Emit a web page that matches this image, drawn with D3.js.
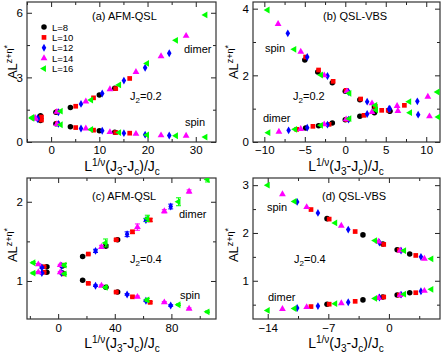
<!DOCTYPE html>
<html>
<head>
<meta charset="utf-8">
<script src="https://cdn.jsdelivr.net/npm/d3@7"></script>
<style>
  body { margin: 0; background: #fff; }
  svg { display: block; font-family: "Liberation Sans", Arial, sans-serif; }
</style>
</head>
<body>
<svg id="chart" width="443" height="352"></svg>
<script>
// system sizes and their colours / symbols
const sizes = [8, 10, 12, 14, 16];
const colors = ['#000000', '#ff0000', '#0000ff', '#ff00ff', '#00ff00'];

// (a) AFM-QSL, J2=0.2 : [x, y] per L
const aDimer = [
  [[-2.2, 1.22], [1.0, 1.38], [4.0, 1.6], [10.0, 2.18], [13.2, 2.5]],
  [[-2.0, 1.16], [1.3, 1.4], [5.1, 1.66], [8.8, 2.05], [13.4, 2.48], [16.3, 2.95]],
  [[-2.8, 1.1], [1.5, 1.38], [6.2, 1.77], [10.6, 2.25], [15.1, 2.85], [19.5, 3.45], [24.5, 4.12]],
  [[-3.3, 1.12], [1.2, 1.4], [7.2, 1.88], [12.2, 2.45], [17.6, 3.25], [22.8, 3.98], [28.0, 4.93]],
  [[-3.9, 1.14], [2.0, 1.43], [8.3, 1.95], [14.1, 2.65], [19.9, 3.65], [25.9, 4.72], [32.0, 5.9]]
];
const aSpin = [
  [[-2.2, 1.0], [1.0, 0.85], [4.0, 0.71], [10.0, 0.52], [13.2, 0.45]],
  [[-2.0, 1.02], [1.3, 0.86], [5.1, 0.67], [8.8, 0.55], [13.4, 0.44], [16.3, 0.41]],
  [[-2.8, 1.06], [1.5, 0.84], [6.2, 0.63], [10.6, 0.52], [15.1, 0.41], [19.5, 0.34], [24.5, 0.3]],
  [[-3.3, 1.08], [1.2, 0.83], [7.2, 0.63], [12.2, 0.46], [17.6, 0.38], [22.8, 0.31], [28.0, 0.29]],
  [[-3.9, 1.1], [2.0, 0.8], [8.3, 0.58], [14.1, 0.44], [19.9, 0.33], [25.9, 0.29], [32.0, 0.23]]
];

// (b) QSL-VBS, J2=0.2
const bDimer = [
  [[-4.9, 0.42], [-3.3, 0.49], [-1.6, 0.57], [0.0, 0.67], [1.8, 0.77], [3.6, 0.88], [5.5, 0.93]],
  [[-6.0, 0.38], [-4.0, 0.47], [-2.0, 0.53], [0.2, 0.67], [2.3, 0.8], [4.5, 0.95], [7.3, 1.1]],
  [[-7.0, 0.35], [-4.7, 0.43], [-2.2, 0.52], [0.4, 0.67], [2.7, 0.84], [5.5, 1.0], [8.9, 1.22]],
  [[-8.2, 0.31], [-5.5, 0.39], [-2.6, 0.53], [0.1, 0.68], [3.3, 0.9], [6.4, 1.08], [10.2, 1.36]],
  [[-9.5, 0.28], [-6.2, 0.38], [-3.0, 0.5], [0.5, 0.7], [3.8, 0.96], [7.9, 1.21], [11.4, 1.5]]
];
const bSpin = [
  [[-5.0, 2.46], [-3.4, 2.1], [-1.6, 1.78], [0.0, 1.52], [1.8, 1.27], [3.6, 1.05], [5.5, 0.92]],
  [[-4.9, 2.55], [-3.3, 2.16], [-1.5, 1.82], [0.1, 1.55], [1.9, 1.29], [3.7, 1.07], [5.3, 0.95]],
  [[-7.1, 3.26], [-4.7, 2.55], [-2.2, 1.98], [0.4, 1.5], [2.7, 1.21], [5.4, 0.99], [9.0, 0.82]],
  [[-8.3, 3.54], [-5.5, 2.71], [-2.6, 2.0], [0.2, 1.52], [3.3, 1.16], [6.5, 0.93], [10.4, 0.77]],
  [[-9.6, 3.96], [-6.3, 2.78], [-3.0, 2.01], [0.5, 1.46], [3.7, 1.1], [8.0, 0.88], [11.5, 0.75]]
];

// (c) AFM-QSL, J2=0.4 : [x, y, error]
const cDimer = [
  [[-8, 1.18, 0.01], [3, 1.19, 0.01], [17.3, 1.31, 0.01], [33.7, 1.44, 0.02], [42, 1.52, 0.01]],
  [[-10, 1.18, 0.01], [3.5, 1.2, 0.01], [21.3, 1.34, 0.01], [41, 1.52, 0.01], [52.5, 1.62, 0.02], [65, 1.77, 0.02]],
  [[-11.5, 1.17, 0.01], [2.5, 1.19, 0.01], [26.4, 1.38, 0.02], [48.7, 1.59, 0.03], [62, 1.77, 0.02], [79.5, 1.94, 0.03]],
  [[-14, 1.21, 0.01], [1.5, 1.2, 0.01], [30.6, 1.43, 0.02], [56, 1.68, 0.04], [75, 1.88, 0.02], [92.5, 2.13, 0.02]],
  [[-17.5, 1.23, 0.01], [4.5, 1.2, 0.02], [33.5, 1.48, 0.05], [63, 1.79, 0.04], [85, 2.0, 0.05], [105.5, 2.28, 0.03]]
];
const cSpin = [
  [[-8, 1.11, 0.01], [3, 1.1, 0.01], [17.3, 1.01, 0.01], [33.7, 0.92, 0.01], [42, 0.86, 0.01]],
  [[-10, 1.11, 0.01], [3.5, 1.09, 0.01], [21.3, 0.97, 0.01], [41, 0.86, 0.01], [52.5, 0.8, 0.01], [65, 0.73, 0.01]],
  [[-11.5, 1.1, 0.01], [2.5, 1.1, 0.01], [26.4, 0.94, 0.01], [48.7, 0.83, 0.01], [62, 0.75, 0.01], [79.5, 0.69, 0.01]],
  [[-14, 1.11, 0.01], [1.5, 1.11, 0.01], [30.6, 0.94, 0.01], [56, 0.8, 0.01], [75, 0.73, 0.01], [92.5, 0.65, 0.01]],
  [[-17.5, 1.1, 0.01], [4.5, 1.09, 0.01], [33.5, 0.92, 0.01], [63, 0.76, 0.02], [85, 0.7, 0.01], [105.5, 0.61, 0.01]]
];

// (d) QSL-VBS, J2=0.4
const dDimer = [
  [[-7.15, 0.51], [-3.0, 0.6], [-0.7, 0.66], [0.95, 0.7], [2.4, 0.75]],
  [[-9.0, 0.46], [-6.9, 0.51], [-3.9, 0.57], [-0.6, 0.66], [1.2, 0.7], [3.1, 0.75]],
  [[-10.6, 0.43], [-8.2, 0.47], [-4.7, 0.55], [-1.1, 0.65], [1.4, 0.71], [3.7, 0.78]],
  [[-12.3, 0.41], [-9.5, 0.45], [-5.5, 0.53], [-1.2, 0.64], [1.3, 0.7], [4.1, 0.79]],
  [[-14.0, 0.38], [-10.9, 0.42], [-6.2, 0.52], [-1.6, 0.63], [1.75, 0.72], [4.9, 0.82]]
];
const dSpin = [
  [[-7.15, 2.3], [-3.0, 1.96], [-0.7, 1.77], [0.95, 1.65], [2.4, 1.56]],
  [[-9.0, 2.49], [-6.9, 2.29], [-3.9, 2.03], [-0.6, 1.76], [1.2, 1.64], [3.1, 1.53]],
  [[-10.6, 2.65], [-8.2, 2.42], [-4.7, 2.07], [-1.1, 1.8], [1.4, 1.63], [3.7, 1.5]],
  [[-12.3, 2.81], [-9.5, 2.54], [-5.5, 2.15], [-1.2, 1.82], [1.3, 1.63], [4.1, 1.46]],
  [[-14.0, 3.0], [-10.9, 2.66], [-6.2, 2.21], [-1.6, 1.84], [1.75, 1.63], [4.9, 1.46]]
];

// axis ticks
const aXTicks = [0, 10, 20, 30], aXMinor = [-5, 5, 15, 25], aYTicks = [0, 3, 6], aYMinor = [1.5, 4.5];
const bXTicks = [-10, -5, 0, 5, 10], bXMinor = [-7.5, -2.5, 2.5, 7.5], bYTicks = [0, 2, 4], bYMinor = [1, 3];
const cXTicks = [0, 40, 80], cXMinor = [-20, 20, 60, 100], cYTicks = [1, 2], cYMinor = [1.5];
const dXTicks = [-14, -7, 0], dXMinor = [-10.5, -3.5, 3.5], dYTicks = [1, 2, 3], dYMinor = [0.5, 1.5, 2.5];

const svg = d3.select('#chart');

const symbolTypes = [d3.symbolCircle, d3.symbolSquare, d3.symbolDiamond, d3.symbolTriangle, d3.symbolTriangle];
const symbolSizes = [24, 22, 18, 20, 20];
const symbolRot = [0, 0, 0, 0, -90];

// text with super/subscripts: segments [text, 'n'|'sup'|'sub'|'sup2']
function richText(g, segs, size, small) {
    let shift = 0;
    segs.forEach(([t, mode]) => {
        const target = mode === 'sup' ? -size * 0.38 : mode === 'sup2' ? -size * 0.52 : mode === 'sub' ? size * 0.25 : 0;
        g.append('tspan')
            .attr('dy', target - shift)
            .attr('font-size', mode === 'n' ? size : small)
            .text(t);
        shift = target;
    });
}

function styleAxis(s) {
    s.select('.domain').remove();
    s.selectAll('line').attr('stroke', '#222');
    s.selectAll('text').attr('font-size', 11.5).attr('fill', '#000');
    s.attr('font-family', null);
}

function drawPanel(p) {
    const [x0, y0, x1, y1] = p.box;
    const x = d3.scaleLinear().domain(p.xDom).range([x0, x1]);
    const y = d3.scaleLinear().domain(p.yDom).range([y1, y0]);
    const g = svg.append('g');

    // ticks, inward on all four sides (labels only on bottom and left)
    const sides = [
        [d3.axisBottom, x, `translate(0,${y1})`, p.xTicks, p.xMinor, p.xPad],
        [d3.axisTop, x, `translate(0,${y0})`, p.xTicks, p.xMinor, 0],
        [d3.axisLeft, y, `translate(${x0},0)`, p.yTicks, p.yMinor, 4],
        [d3.axisRight, y, `translate(${x1},0)`, p.yTicks, p.yMinor, 0]
    ];
    sides.forEach(([make, sc, tr, major, minor, pad]) => {
        g.append('g').attr('transform', tr)
            .call(make(sc).tickValues(major).tickSizeInner(-5).tickSizeOuter(0)
                .tickPadding(pad).tickFormat(pad ? d3.format('') : () => ''))
            .call(styleAxis);
        g.append('g').attr('transform', tr)
            .call(make(sc).tickValues(minor).tickSizeInner(-3).tickSizeOuter(0).tickFormat(() => ''))
            .call(styleAxis);
    });

    g.append('rect')
        .attr('x', x0).attr('y', y0)
        .attr('width', x1 - x0).attr('height', y1 - y0)
        .attr('fill', 'none').attr('stroke', '#333').attr('stroke-width', 1.2);

    const clipId = 'clip-' + p.id;
    svg.append('clipPath').attr('id', clipId)
        .append('rect').attr('x', x0).attr('y', y0).attr('width', x1 - x0).attr('height', y1 - y0);

    const marks = g.append('g').attr('clip-path', `url(#${clipId})`);
    sizes.forEach((L, i) => {
        [p.dimer[i], p.spin[i]].forEach(series => {
            const err = series.filter(d => d[2]);
            marks.selectAll(null).data(err).enter().append('path')
                .attr('d', d => {
                    const xa = x(d[0]), ya = y(d[1] - d[2]), yb = y(d[1] + d[2]);
                    return `M${xa},${ya}V${yb}M${xa - 2.5},${ya}H${xa + 2.5}M${xa - 2.5},${yb}H${xa + 2.5}`;
                })
                .attr('stroke', colors[i]).attr('stroke-width', 1).attr('fill', 'none');
            marks.selectAll(null).data(series).enter().append('path')
                .attr('d', d3.symbol(symbolTypes[i], symbolSizes[i]))
                .attr('transform', d => `translate(${x(d[0])},${y(d[1])}) rotate(${symbolRot[i]})`)
                .attr('fill', colors[i]);
        });
    });

    // annotations
    p.notes.forEach(([t, dx, dy]) => {
        const tx = g.append('text').attr('x', x0 + dx).attr('y', y0 + dy).attr('font-size', 11);
        if (Array.isArray(t)) richText(tx, t, 11, 8); else tx.text(t);
    });

    // axis titles
    const xl = g.append('text').attr('x', p.xLabel[0]).attr('y', p.xLabel[1]).attr('text-anchor', 'middle');
    richText(xl, [['L', 'n'], ['1/ν', 'sup'], ['(J', 'n'], ['3', 'sub'], ['-J', 'n'], ['c', 'sub'], [')/J', 'n'], ['c', 'sub']], 14, 10);
    const yl = g.append('text').attr('text-anchor', 'middle')
        .attr('transform', `translate(${p.yLabel[0]},${p.yLabel[1]}) rotate(-90)`);
    richText(yl, [['AL', 'n'], ['z+η', 'sup'], ['*', 'sup2']], 13, 9);
}

const panels = [
    { id: 'a', box: [27, 2, 216, 142], xDom: [-5, 34.2], yDom: [0, 6.5], xPad: 4,
      xTicks: aXTicks, xMinor: aXMinor, yTicks: aYTicks, yMinor: aYMinor, dimer: aDimer, spin: aSpin,
      notes: [['(a) AFM-QSL', 65, 18], ['dimer', 157, 51], [[['J', 'n'], ['2', 'sub'], ['=0.2', 'n']], 103, 98], ['spin', 158, 124]],
      xLabel: [122, 171], yLabel: [17, 62] },
    { id: 'b', box: [253, 2, 440, 142], xDom: [-11.4, 11.7], yDom: [0, 4.2], xPad: 4,
      xTicks: bXTicks, xMinor: bXMinor, yTicks: bYTicks, yMinor: bYMinor, dimer: bDimer, spin: bSpin,
      notes: [['(b) QSL-VBS', 70, 18], ['spin', 12, 50], [[['J', 'n'], ['2', 'sub'], ['=0.2', 'n']], 40, 98], ['dimer', 10, 120]],
      xLabel: [346, 171], yLabel: [238, 62] },
    { id: 'c', box: [27, 178, 216, 319], xDom: [-22, 111.5], yDom: [0.52, 2.3], xPad: 5,
      xTicks: cXTicks, xMinor: cXMinor, yTicks: cYTicks, yMinor: cYMinor, dimer: cDimer, spin: cSpin,
      notes: [['(c) AFM-QSL', 65, 22], ['dimer', 152, 40], [[['J', 'n'], ['2', 'sub'], ['=0.4', 'n']], 103, 85], ['spin', 153, 121]],
      xLabel: [122, 348], yLabel: [17, 245] },
    { id: 'd', box: [253, 178, 440, 319], xDom: [-15.7, 5.9], yDom: [0.2, 3.15], xPad: 5,
      xTicks: dXTicks, xMinor: dXMinor, yTicks: dYTicks, yMinor: dYMinor, dimer: dDimer, spin: dSpin,
      notes: [['(d) QSL-VBS', 69, 22], ['spin', 14, 33], [[['J', 'n'], ['2', 'sub'], ['=0.4', 'n']], 41, 85], ['dimer', 15, 123]],
      xLabel: [346, 348], yLabel: [238, 245] }
];
panels.forEach(drawPanel);

// legend in panel (a)
const legend = svg.append('g');
sizes.forEach((L, i) => {
    const ly = 27 + i * 10.4;
    legend.append('path')
        .attr('d', d3.symbol(symbolTypes[i], symbolSizes[i]))
        .attr('transform', `translate(44,${ly}) rotate(${symbolRot[i]})`)
        .attr('fill', colors[i]);
    legend.append('text').attr('x', 52).attr('y', ly + 3.5).attr('font-size', 9.5).text('L=' + L);
});
</script>
</body>
</html>
